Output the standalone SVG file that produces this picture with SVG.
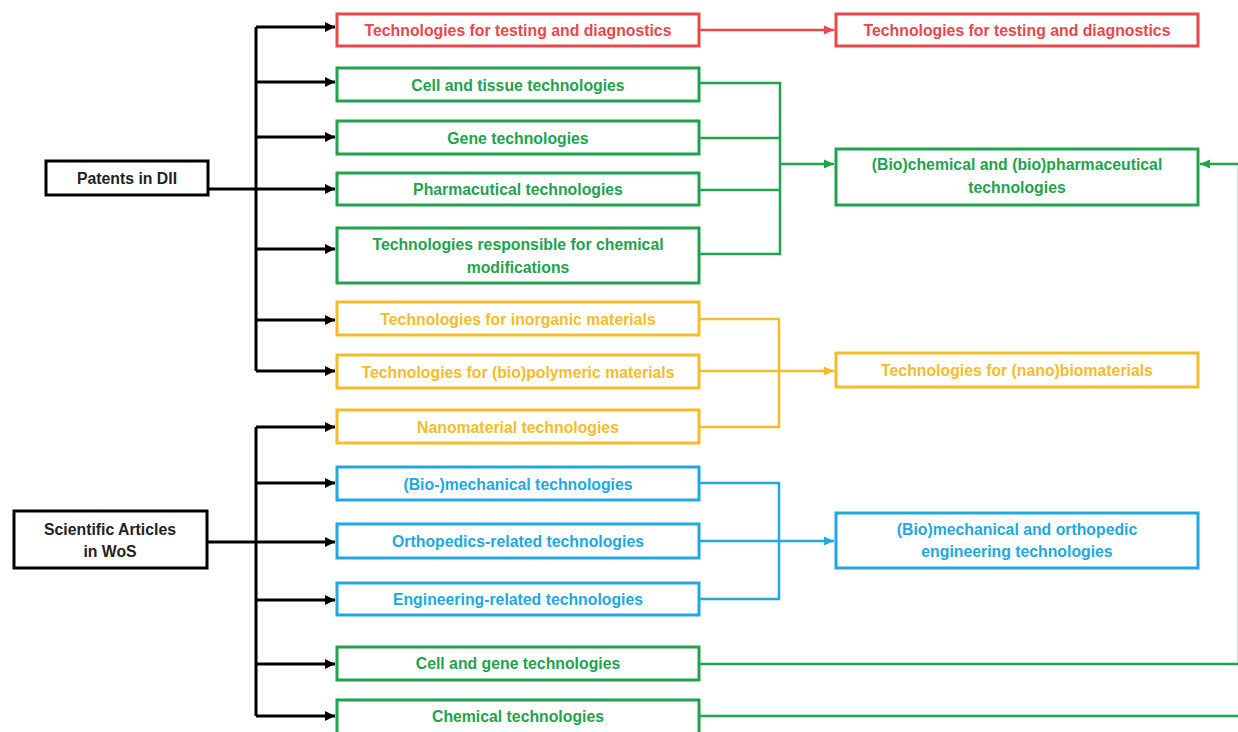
<svg xmlns="http://www.w3.org/2000/svg" width="1238" height="732" viewBox="0 0 1238 732">
<style>
.box{fill:#fff;stroke-width:3}
.t{font-family:"Liberation Sans",Arial,sans-serif;font-weight:bold;font-size:15.8px;text-anchor:middle;dominant-baseline:central}
.k{stroke:#000}.kt{fill:#222}
.r{stroke:#e8474c}.rt{fill:#e8474c}
.g{stroke:#22a24e}.gt{fill:#22a24e}
.y{stroke:#f6bb2a}.yt{fill:#f6bb2a}
.b{stroke:#22a7e0}.bt{fill:#22a7e0}
.ln{fill:none;stroke-width:3}
.lt{fill:none;stroke-width:2.5}
</style>
<defs>
<marker id="ak" markerUnits="userSpaceOnUse" markerWidth="12" markerHeight="12" refX="10" refY="6" orient="auto"><path d="M0,1 L10,6 L0,11 z" fill="#000"/></marker>
<marker id="ar" markerUnits="userSpaceOnUse" markerWidth="12" markerHeight="12" refX="10" refY="6" orient="auto"><path d="M0,1.5 L10,6 L0,10.5 z" fill="#e8474c"/></marker>
<marker id="ag" markerUnits="userSpaceOnUse" markerWidth="12" markerHeight="12" refX="10" refY="6" orient="auto"><path d="M0,1.5 L10,6 L0,10.5 z" fill="#22a24e"/></marker>
<marker id="ay" markerUnits="userSpaceOnUse" markerWidth="12" markerHeight="12" refX="10" refY="6" orient="auto"><path d="M0,1.5 L10,6 L0,10.5 z" fill="#f6bb2a"/></marker>
<marker id="ab" markerUnits="userSpaceOnUse" markerWidth="12" markerHeight="12" refX="10" refY="6" orient="auto"><path d="M0,1.5 L10,6 L0,10.5 z" fill="#22a7e0"/></marker>
</defs>
<rect width="1238" height="732" fill="#fff"/>

<g id="connectors">
  <path class="ln k" d="M256,27 V371"/>
  <path class="ln k" d="M208,189 H256"/>
  <path class="ln k" d="M256,27 H335" marker-end="url(#ak)"/>
  <path class="ln k" d="M256,82 H335" marker-end="url(#ak)"/>
  <path class="ln k" d="M256,137 H335" marker-end="url(#ak)"/>
  <path class="ln k" d="M256,189 H335" marker-end="url(#ak)"/>
  <path class="ln k" d="M256,249 H335" marker-end="url(#ak)"/>
  <path class="ln k" d="M256,320 H335" marker-end="url(#ak)"/>
  <path class="ln k" d="M256,371 H335" marker-end="url(#ak)"/>
  <path class="ln k" d="M256,427 V716"/>
  <path class="ln k" d="M207,542 H256"/>
  <path class="ln k" d="M256,427 H335" marker-end="url(#ak)"/>
  <path class="ln k" d="M256,483 H335" marker-end="url(#ak)"/>
  <path class="ln k" d="M256,542 H335" marker-end="url(#ak)"/>
  <path class="ln k" d="M256,600 H335" marker-end="url(#ak)"/>
  <path class="ln k" d="M256,664 H335" marker-end="url(#ak)"/>
  <path class="ln k" d="M256,716 H335" marker-end="url(#ak)"/>
  <path class="lt r" d="M699,30 H834" marker-end="url(#ar)"/>
  <path class="lt g" d="M699,83 H780 V254 H699"/>
  <path class="lt g" d="M699,138 H780"/>
  <path class="lt g" d="M699,190 H780"/>
  <path class="lt g" d="M780,164 H834" marker-end="url(#ag)"/>
  <path class="lt y" d="M699,319 H779 V427 H699"/>
  <path class="lt y" d="M699,371 H834" marker-end="url(#ay)"/>
  <path class="lt b" d="M699,483 H779 V599 H699"/>
  <path class="lt b" d="M699,541 H834" marker-end="url(#ab)"/>
  <path class="lt g" d="M699,664 H1239 V164"/>
  <path class="lt g" d="M699,716 H1239"/>
  <path class="lt g" d="M1239,164 H1200" marker-end="url(#ag)"/>
</g>

<g id="patents"><rect class="box k" x="46" y="161" width="162" height="34"/><text class="t kt" x="127" y="178">Patents in DII</text></g>
<g id="wos"><rect class="box k" x="14" y="511" width="193" height="57"/><text class="t kt" x="110" y="529">Scientific Articles</text><text class="t kt" x="110" y="551">in WoS</text></g>

<g id="testing1"><rect class="box r" x="337" y="14" width="362" height="32"/><text class="t rt" x="518" y="30">Technologies for testing and diagnostics</text></g>
<g id="celltissue"><rect class="box g" x="337" y="68" width="362" height="33"/><text class="t gt" x="518" y="85">Cell and tissue technologies</text></g>
<g id="gene"><rect class="box g" x="337" y="121" width="362" height="33"/><text class="t gt" x="518" y="138">Gene technologies</text></g>
<g id="pharma"><rect class="box g" x="337" y="173" width="362" height="32"/><text class="t gt" x="518" y="189">Pharmacutical technologies</text></g>
<g id="chemmod"><rect class="box g" x="337" y="228" width="362" height="55"/><text class="t gt" x="518" y="244">Technologies responsible for chemical</text><text class="t gt" x="518" y="267">modifications</text></g>
<g id="inorganic"><rect class="box y" x="337" y="302" width="362" height="33"/><text class="t yt" x="518" y="319">Technologies for inorganic materials</text></g>
<g id="polymeric"><rect class="box y" x="337" y="355" width="362" height="33"/><text class="t yt" x="518" y="372">Technologies for (bio)polymeric materials</text></g>
<g id="nano"><rect class="box y" x="337" y="410" width="362" height="33"/><text class="t yt" x="518" y="427">Nanomaterial technologies</text></g>
<g id="biomech"><rect class="box b" x="337" y="467" width="362" height="33"/><text class="t bt" x="518" y="484">(Bio-)mechanical technologies</text></g>
<g id="ortho"><rect class="box b" x="337" y="524" width="362" height="34"/><text class="t bt" x="518" y="541">Orthopedics-related technologies</text></g>
<g id="engineering"><rect class="box b" x="337" y="583" width="362" height="32"/><text class="t bt" x="518" y="599">Engineering-related technologies</text></g>
<g id="cellgene"><rect class="box g" x="337" y="647" width="362" height="33"/><text class="t gt" x="518" y="663">Cell and gene technologies</text></g>
<g id="chemical"><rect class="box g" x="337" y="700" width="362" height="34"/><text class="t gt" x="518" y="716">Chemical technologies</text></g>

<g id="testing2"><rect class="box r" x="836" y="14" width="362" height="32"/><text class="t rt" x="1017" y="30">Technologies for testing and diagnostics</text></g>
<g id="biochem"><rect class="box g" x="836" y="149" width="362" height="56"/><text class="t gt" x="1017" y="164">(Bio)chemical and (bio)pharmaceutical</text><text class="t gt" x="1017" y="187">technologies</text></g>
<g id="nanobio"><rect class="box y" x="836" y="353" width="362" height="34"/><text class="t yt" x="1017" y="370">Technologies for (nano)biomaterials</text></g>
<g id="mechortho"><rect class="box b" x="836" y="513" width="362" height="55"/><text class="t bt" x="1017" y="529">(Bio)mechanical and orthopedic</text><text class="t bt" x="1017" y="551">engineering technologies</text></g>
</svg>
